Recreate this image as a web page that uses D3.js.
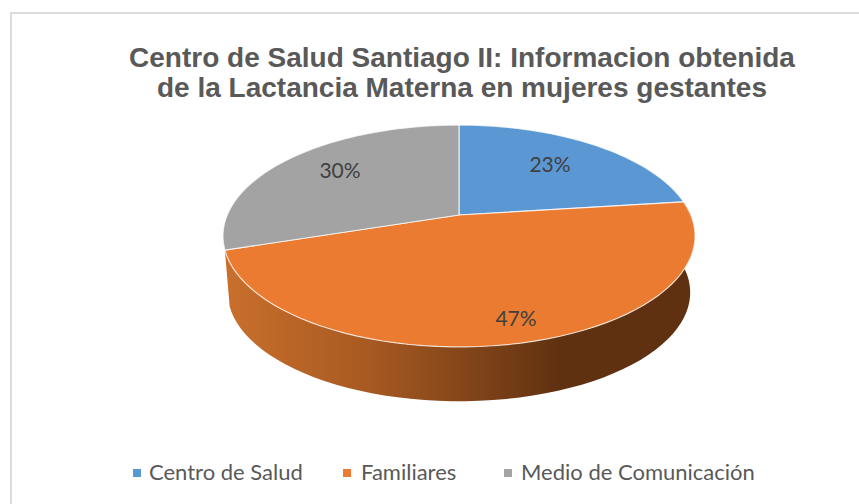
<!DOCTYPE html>
<html><head><meta charset="utf-8">
<script src="https://cdn.jsdelivr.net/npm/d3@7"></script>
<style>html,body{margin:0;background:#fff}svg{display:block}</style></head>
<body><svg id="c" width="859" height="504"></svg>
<script>
const titleLines = ["Centro de Salud Santiago II: Informacion obtenida", "de la Lactancia Materna en mujeres gestantes"];
const categories = ["Centro de Salud", "Familiares", "Medio de Comunicación"];
const values = [23, 47, 30];
const colors = ["#5b98d3", "#ea7b30", "#a3a3a3"];

const svg = d3.select("#c");
const defs = svg.append("defs");
const g = defs.append("linearGradient").attr("id","side").attr("gradientUnits","userSpaceOnUse")
  .attr("x1",226).attr("x2",692).attr("y1",0).attr("y2",0);
[[0,"#c96f2c"],[0.3,"#a85a22"],[0.55,"#7d4218"],[0.72,"#5f3110"],[1,"#5f3110"]].forEach(([o,c])=>g.append("stop").attr("offset",o).attr("stop-color",c));

// frame
svg.append("path").attr("d","M11,504V13H859").attr("fill","none").attr("stroke","#dcdcdc").attr("stroke-width",2);

// title
svg.append("g").selectAll("text").data(titleLines).join("text")
  .attr("x",462).attr("y",(d,i)=>67+i*30).attr("text-anchor","middle")
  .attr("font-family","Liberation Sans").attr("font-weight","bold").attr("font-size",28)
  .attr("fill","#595959").text(d=>d);

// perspective disc
const cx=459, cy=215, a=107, b=231.8, k=0.189;
const project=(t,depth=0)=>{
  const u=Math.sin(t), v=Math.cos(t), w=1+k*v, s=1-depth*0.00036;
  return [cx+s*b*u/w, cy-s*a*v/w+depth];
};
const pie=d3.pie().sort(null)(values);
const line=d3.line();
const rim=(t0,t1,depth=0)=>d3.range(0,61).map(i=>project(t0+(t1-t0)*i/60,depth));
const depth=57;
const front=pie[1];
// side wall of the front slice
const wall=[...rim(front.startAngle,front.endAngle,0),...rim(front.endAngle,front.startAngle,depth)];
svg.append("path").attr("d",line(wall)+"Z").attr("fill","url(#side)");
// top faces
svg.append("g").selectAll("path").data(pie).join("path")
  .attr("d",d=>line([[cx,cy],...rim(d.startAngle,d.endAngle)])+"Z")
  .attr("fill",(d,i)=>colors[i]).attr("stroke","#fff").attr("stroke-opacity",0.75).attr("stroke-width",1.2).attr("stroke-linejoin","round");

// data labels
const labelPos=[[550,172],[516,326],[340,178]];
svg.append("g").selectAll("text").data(values).join("text")
  .attr("x",(d,i)=>labelPos[i][0]).attr("y",(d,i)=>labelPos[i][1]).attr("text-anchor","middle")
  .attr("font-family","Lato").attr("font-size",21).attr("fill","#404040").text(d=>d+"%");

// legend
const legX=[133,343,504], legTextX=[149,361,521];
const lg=svg.append("g");
lg.selectAll("rect").data(categories).join("rect")
  .attr("x",(d,i)=>legX[i]).attr("y",469).attr("width",8).attr("height",8).attr("fill",(d,i)=>colors[i]);
lg.selectAll("text").data(categories).join("text")
  .attr("x",(d,i)=>legTextX[i]).attr("y",480)
  .attr("font-family","Lato").attr("font-size",22).attr("fill","#595959").text(d=>d);
</script></body></html>
